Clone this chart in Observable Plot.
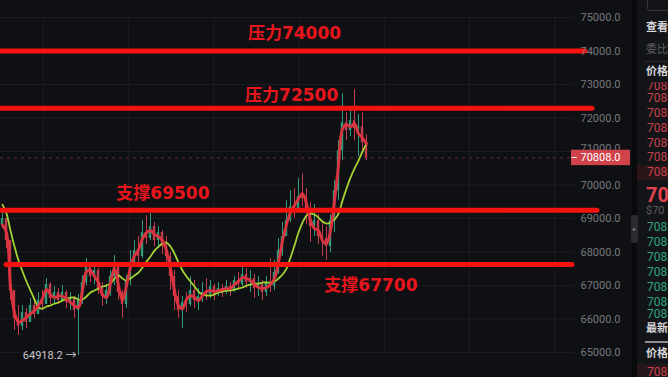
<!DOCTYPE html>
<html>
<head>
<meta charset="utf-8">
<script src="https://cdn.jsdelivr.net/npm/d3@7"></script>
<script src="https://cdn.jsdelivr.net/npm/@observablehq/plot@0.6"></script>
<style>
  html, body { margin: 0; padding: 0; background: #0f1013; }
  #wrap { position: relative; width: 668px; height: 377px; overflow: hidden; background: #0f1013; font-family: Roboto, "Noto Sans CJK SC", sans-serif; }
  #chart { position: absolute; left: 0; top: 0; }
  #sep { position: absolute; left: 632px; top: 0; width: 5px; height: 377px; background: #0a0a0c; }
  #tab { position: absolute; left: 631px; top: 215px; width: 7px; height: 28px; background: #2a2b30; border-radius: 2px; color: #888; font-size: 6px; line-height: 28px; text-align: center; }
  #panel { position: absolute; left: 637px; top: 0; width: 31px; height: 377px; background: #131418; overflow: hidden; }
  .clip { position: absolute; left: 0; width: 31px; overflow: hidden; }
  .row { position: absolute; left: 10px; white-space: nowrap; font-size: 12px; line-height: 14px; height: 14px; }
  .hd { color: #d6d6d8; font-weight: bold; font-size: 11px; left: 9px; }
  .gr { color: #5b5d62; font-size: 11px; left: 9px; }
  .rd { color: #c8424b; }
  .gn { color: #2fa57f; }
</style>
</head>
<body>
<div id="wrap">
  <div id="chart"></div>
  <div id="sep"></div>
  <div id="panel"></div>
  <div id="tab">▸</div>
</div>
<script>
// ---- data ----
const firstOpen = 68818;
const closes = [68997,68341,66850,66015,65777,66194,65896,66403,66135,66552,
  66433,67029,66612,66791,66552,66791,66492,66612,66254,66552,
  67089,67566,67268,67447,66910,66671,66850,67268,67626,66791,
  66433,67148,67685,68043,67864,68580,68401,68759,68341,68580,
  68162,67864,67268,66671,66254,66492,66433,66850,66552,66671,
  66791,66731,66970,66731,66910,66791,66970,66850,67148,67029,
  67327,67089,67208,66910,67029,66791,67089,66970,67387,68043,
  68461,68938,69355,69236,69653,69594,69176,68759,68938,68461,
  68401,68162,68938,69832,71025,71860,71621,71920,71680,71740,
  71264,70808];
const highs = [69176,68938,68341,66850,66403,66403,66313,66612,66552,66791,
  66850,67208,67089,66970,66910,66999,66850,66791,66671,66731,
  67298,67804,67685,67626,67506,67089,67029,67447,67894,67685,
  66850,67298,68043,68341,68461,68938,69087,69146,68878,68759,
  68639,68461,67983,67447,66850,66671,66791,67268,67148,66910,
  67089,67208,67148,67029,67089,67029,67148,67089,67268,67387,
  67685,67506,67447,67327,67268,67148,67268,67804,67745,68401,
  68878,69534,69832,69892,70190,70339,69892,69474,69415,69117,
  68878,68759,69117,70130,71323,72725,72158,72277,72844,72099,
  72158,71502];
const lows = [68699,68103,66552,65657,65508,65657,65717,65896,66015,66194,
  66254,66492,66433,66403,66433,66492,66313,66254,66015,64918.2,
  66433,66999,67089,67029,66731,66373,66433,66671,66999,66552,
  66015,66313,66999,67566,67685,67804,68222,68341,68162,68103,
  67924,67685,66850,66254,66015,65717,66194,66373,66313,66254,
  66492,66552,66612,66552,66671,66641,66731,66671,66791,66910,
  66970,66910,66791,66612,66671,66552,66671,66791,66850,67327,
  67864,68461,68878,68997,69176,69355,68818,68282,68461,68222,
  67864,67745,67983,68580,69534,70727,71323,71442,71323,70846,
  71025,70727];
const redMA = [68810,68580,67000,66190,65900,65960,66050,66160,66250,66400,
  66610,66880,66730,66640,66700,66670,66610,66490,66400,66340,
  66850,67420,67450,67270,67090,66730,66640,67060,67510,67000,
  66550,67000,67540,67890,68070,68400,68580,68640,68520,68460,
  68340,68040,67510,66850,66400,66310,66580,66700,66640,66550,
  66700,66820,66850,66820,66850,66880,66910,66910,67030,67120,
  67240,67210,67150,67030,66940,66910,66940,67030,67210,67690,
  68340,68820,69180,69390,69590,69740,69450,68940,68700,68640,
  68340,68250,68640,69530,70580,71680,71800,71740,71830,71530,
  71410,71230];
const greenMA = [69415,69146,68639,68162,67745,67417,67119,66850,66582,66343,
  66313,66373,66403,66462,66492,66552,66612,66641,66641,66582,
  66582,66671,66791,66850,66910,66970,66999,67059,67208,67298,
  67208,67148,67208,67298,67387,67536,67715,67864,68043,68162,
  68252,68282,68162,67953,67685,67447,67268,67119,66970,66820,
  66731,66701,66701,66731,66791,66820,66850,66850,66880,66910,
  66940,66999,67029,67059,67059,67089,67089,67089,67119,67208,
  67327,67506,67834,68192,68580,68878,69087,69146,69117,69027,
  68908,68848,68878,68967,69146,69534,69892,70220,70488,70727,
  70995,71234];
const levelValues = [74000, 72290, 69245, 67625];
const levelStart = [-0.5, -0.5, -0.5, 1];
const levelEnd = [145.75, 147.5, 148.75, 142.5];
const labelTexts = ["压力74000", "压力72500", "支撑69500", "支撑67700"];
const labelX = [73.0, 72.3, 40.1, 92.1];
const labelY = [74514, 72665, 69743, 66999];
const yTicks = [65000, 66000, 67000, 68000, 69000, 70000, 71000, 72000, 73000, 74000, 75000];
const gridX = [10.25, 31.55, 52.85, 74.15, 95.45, 116.75, 138.05];
const lastPrice = 70808.0;
const lowIndex = 19;
const lowValue = 64918.2;

// ---- tables ----
const candles = closes.map((c, i) => {
  const o = i === 0 ? firstOpen : closes[i - 1];
  return {i, open: o, close: c, high: Math.max(highs[i], o, c), low: Math.min(lows[i], o, c), up: c >= o};
});
const levels = levelValues.map((v, k) => ({value: v, start: levelStart[k], end: levelEnd[k]}));
const labels = labelTexts.map((t, k) => ({text: t, x: labelX[k], y: labelY[k]}));
const maRed = redMA.map((v, i) => ({i, v}));
const maGreen = greenMA.map((v, i) => ({i, v}));

const upColor = "#2f9a7c", downColor = "#c23d49";

const chart = Plot.plot({
  width: 668,
  height: 377,
  marginLeft: 2,
  marginRight: 2,
  marginTop: 17,
  marginBottom: 25,
  x: {domain: [0, 166], axis: null},
  y: {domain: [65000, 75000], axis: null},
  style: {background: "transparent", fontFamily: "Roboto, 'Noto Sans CJK SC', sans-serif"},
  marks: [
    Plot.ruleX(gridX, {x: d => d, stroke: "#1b1c21", strokeWidth: 1}),
    Plot.ruleY(yTicks, {y: d => d, x1: -0.5, x2: 143, stroke: "#1b1c21", strokeWidth: 1}),
    Plot.ruleY([lastPrice], {y: d => d, x1: -0.5, x2: 142.25, stroke: "#6b2c31", strokeWidth: 1, strokeDasharray: "3,4"}),
    Plot.ruleX(candles, {x: "i", y1: "low", y2: "high", stroke: d => d.up ? upColor : downColor, strokeWidth: 1}),
    Plot.rect(candles, {x1: d => d.i - 0.3, x2: d => d.i + 0.3, y1: "open", y2: "close", fill: d => d.up ? upColor : downColor}),
    Plot.line(maGreen, {x: "i", y: "v", stroke: "#a2d332", strokeWidth: 1.8, curve: "catmull-rom"}),
    Plot.line(maRed, {x: "i", y: "v", stroke: "#dd3340", strokeWidth: 2.8, curve: "catmull-rom"}),
    Plot.ruleY(levels, {y: "value", x1: "start", x2: "end", stroke: "#f5120f", strokeWidth: 5, strokeLinecap: "round"}),
    Plot.text(labels, {x: "x", y: "y", text: "text", fill: "#e8161c", fontSize: 17, fontWeight: "bold",
      fontFamily: "'DejaVu Sans', 'Noto Sans CJK SC', sans-serif", letterSpacing: 0.5}),
    Plot.text(yTicks.filter(t => t !== 71000), {y: d => d, text: d => d.toFixed(1), frameAnchor: "right", textAnchor: "end", dx: -46, fill: "#76787e", fontSize: 11}),
    Plot.text([71000], {y: d => d, text: d => d.toFixed(1), frameAnchor: "right", textAnchor: "end", dx: -46, dy: -3, fill: "#76787e", fontSize: 11}),
    Plot.rect([lastPrice], {x1: 142.25, x2: 157, y1: d => d - 230, y2: d => d + 230, fill: "#d0434b"}),
    Plot.text([lastPrice], {y: d => d, text: d => "–\u00a0" + d.toFixed(1), frameAnchor: "right", textAnchor: "end", dx: -46, fill: "#ffffff", fontSize: 11}),
    Plot.text([lowValue], {x: lowIndex, y: d => d, text: d => d.toFixed(1) + " →", textAnchor: "end", dx: -2, fill: "#c9c9cc", fontSize: 11})
  ]
});
document.getElementById("chart").appendChild(chart);

// ---- side panel (order book, only its left edge is visible) ----
const panel = document.getElementById("panel");
function add(parent, css, cls, text) {
  const d = document.createElement("div");
  if (cls) d.className = cls;
  if (css) d.style.cssText = css;
  if (text) d.textContent = text;
  parent.appendChild(d);
  return d;
}
add(panel, "position:absolute;left:10px;top:-3px;width:30px;height:12px;border:1px solid #34353a;border-radius:3px;");
add(panel, "position:absolute;left:8px;top:61px;width:30px;border-top:1px dotted #3a3b40;");
add(panel, "position:absolute;left:8px;top:341px;width:30px;border-top:2px solid #8e8f94;");
add(panel, "position:absolute;left:0;top:165px;width:31px;height:15px;background:#2a1619;");
add(panel, "position:absolute;left:0;top:364px;width:31px;height:15px;background:#24161a;");

const headRows = [
  {t: "查看", y: 28, c: "hd"},
  {t: "委比", y: 50, c: "gr"},
  {t: "价格", y: 72, c: "hd"},
  {t: "最新", y: 329, c: "hd"},
  {t: "价格", y: 354, c: "hd"}
];
headRows.forEach(r => add(panel, `top:${r.y - 7}px`, "row " + r.c, r.t));
add(panel, "top:186px;font-size:20px;font-weight:bold;line-height:18px;height:18px;color:#e0434e;left:9px;", "row", "70");
add(panel, "top:205px;line-height:12px;height:12px;font-size:11px;color:#5b5d62;left:9px;", "row", "$70");

// ask rows (top one half hidden under the header)
const asks = add(panel, null, "clip");
asks.style.top = "82px"; asks.style.height = "98px";
[86, 98, 113, 128, 143, 157, 172].forEach(y => add(asks, `top:${y - 6 - 82}px;line-height:12px;height:12px`, "row rd", "708"));
// bid rows (bottom one half hidden)
const bids = add(panel, null, "clip");
bids.style.top = "219px"; bids.style.height = "100px";
[227, 242, 257, 272, 287, 302, 314].forEach(y => add(bids, `top:${y - 6 - 219}px;line-height:12px;height:12px`, "row gn", "708"));
// last trade row at the bottom edge
const last = add(panel, null, "clip");
last.style.top = "364px"; last.style.height = "13px";
add(last, "top:2px;line-height:12px;height:12px", "row rd", "708");
</script>
</body>
</html>
